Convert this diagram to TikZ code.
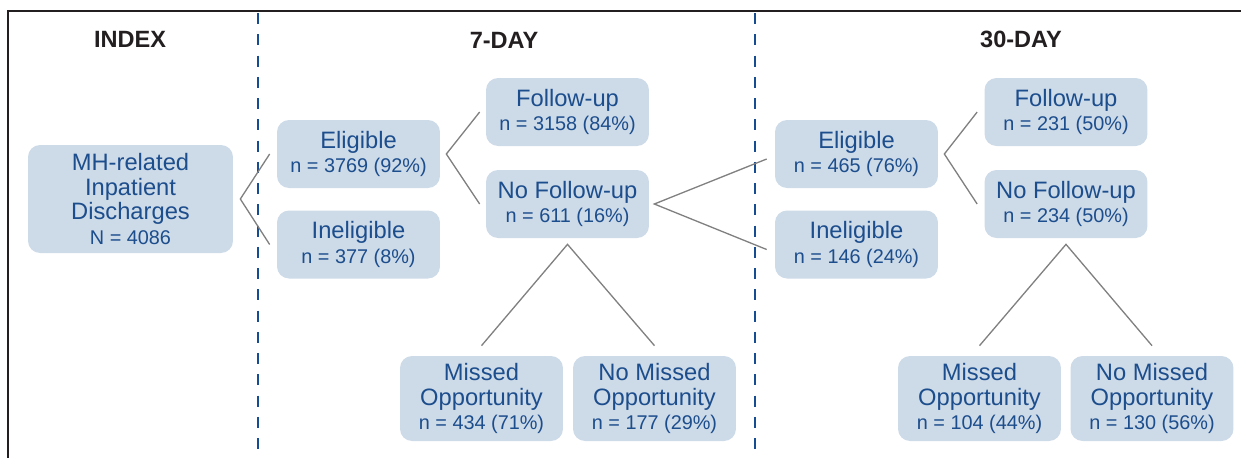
\documentclass[tikz,border=0pt]{standalone}
\usepackage{fontspec}
\setmainfont{Liberation Sans}
\usetikzlibrary{calc}

\definecolor{boxfill}{RGB}{205,218,232}
\definecolor{boxtext}{RGB}{28,77,140}
\definecolor{dashblue}{RGB}{22,76,146}
\definecolor{connline}{RGB}{128,128,128}
\definecolor{headtext}{RGB}{35,31,32}

\newcommand{\subline}[1]{{\fontsize{11.3}{14}\selectfont #1}}

\tikzset{
  box/.style={fill=boxfill, text=boxtext, rounded corners=0.24cm, inner sep=0pt,
    minimum width=3.26cm, minimum height=1.36cm, align=center,
    font=\fontsize{13.5}{14}\selectfont},
  tallbox/.style={box, minimum height=1.7cm},
  heading/.style={text=headtext, font=\fontsize{13.4}{14}\selectfont\bfseries},
  conn/.style={draw=connline, line width=0.75pt},
  divider/.style={draw=dashblue, line width=1.1pt, dash pattern=on 6.3pt off 5.8pt}
}

\begin{document}
\begin{tikzpicture}[x=0.02cm, y=-0.02cm]
\useasboundingbox (0,0) rectangle (1241,458);

%% frame
\draw[headtext, line width=1.5pt] (1241,11) -- (8,11) -- (8,458);

%% column dividers
\coordinate (D1top) at (258,13);
\coordinate (D1bot) at (258,451);
\coordinate (D2top) at (755,13);
\coordinate (D2bot) at (755,451);
\draw[divider] (D1top) -- (D1bot);
\draw[divider] (D2top) -- (D2bot);

%% headings
\node[heading] (hindex) at (130,39) {INDEX};
\node[heading] (hseven) at (504,40) {7-DAY};
\node[heading] (hthirty) at (1021,39) {30-DAY};

%% index
\node[box, minimum width=4.1cm, minimum height=2.16cm] (mh) at (130.5,199)
  {MH-related\\Inpatient\\Discharges\\\subline{N = 4086}};

%% 7-day
\node[box] (elig7) at (358.5,154) {Eligible\\\subline{n = 3769 (92\%)}};
\node[box] (inel7) at (358.5,244.5) {Ineligible\\\subline{n = 377 (8\%)}};
\node[box] (fu7) at (567.5,112) {Follow-up\\\subline{n = 3158 (84\%)}};
\node[box] (nofu7) at (567.5,204) {No Follow-up\\\subline{n = 611 (16\%)}};
\node[tallbox] (miss7) at (481.5,398.5) {Missed\\Opportunity\\\subline{n = 434 (71\%)}};
\node[tallbox] (nomiss7) at (654.5,398.5) {No Missed\\Opportunity\\\subline{n = 177 (29\%)}};

%% 30-day
\node[box] (elig30) at (856.5,154) {Eligible\\\subline{n = 465 (76\%)}};
\node[box] (inel30) at (856.5,244.5) {Ineligible\\\subline{n = 146 (24\%)}};
\node[box] (fu30) at (1066,112) {Follow-up\\\subline{n = 231 (50\%)}};
\node[box] (nofu30) at (1066,204) {No Follow-up\\\subline{n = 234 (50\%)}};
\node[tallbox] (miss30) at (979.5,398.5) {Missed\\Opportunity\\\subline{n = 104 (44\%)}};
\node[tallbox] (nomiss30) at (1152,398.5) {No Missed\\Opportunity\\\subline{n = 130 (56\%)}};

%% branches
\draw[conn] ($(elig7.west)+(-7,0)$) -- ($(mh.east)+(7,0)$) -- ($(inel7.west)+(-7,0)$);
\draw[conn] ($(fu7.west)+(-6,0)$) -- ($(elig7.east)+(6,0)$) -- ($(nofu7.west)+(-6,0)$);
\draw[conn] ($(elig30.west)+(-8,5)$) -- ($(nofu7.east)+(5,0)$) -- ($(inel30.west)+(-8,5)$);
\draw[conn] ($(miss7.north)+(0,-10)$) -- ($(nofu7.south)+(0,6)$) -- ($(nomiss7.north)+(0,-10)$);
\draw[conn] ($(fu30.west)+(-7,0)$) -- ($(elig30.east)+(6,0)$) -- ($(nofu30.west)+(-7,0)$);
\draw[conn] ($(miss30.north)+(0,-10)$) -- ($(nofu30.south)+(0,6)$) -- ($(nomiss30.north)+(0,-10)$);
\end{tikzpicture}
\end{document}
